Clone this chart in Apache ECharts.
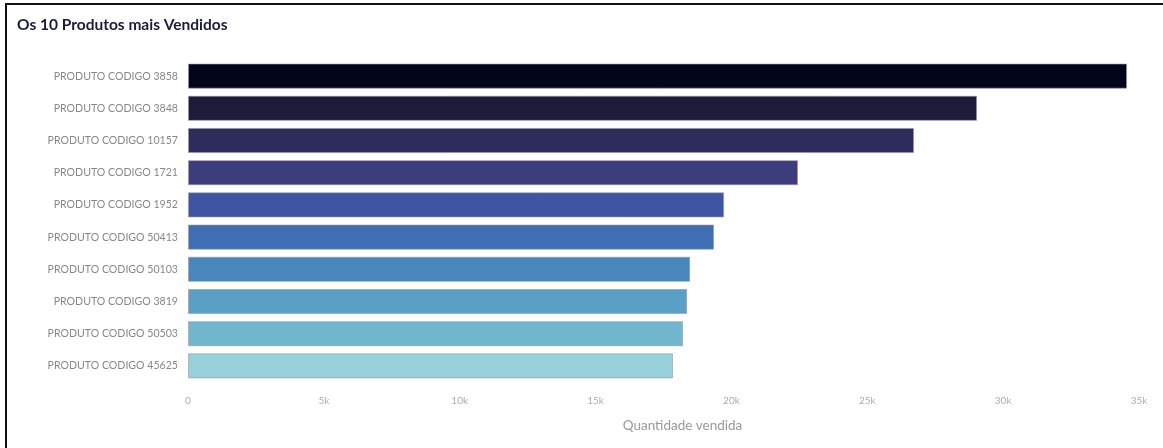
<!DOCTYPE html>
<html>
<head>
<meta charset="utf-8">
<script src="https://cdn.jsdelivr.net/npm/echarts@6/dist/echarts.min.js"></script>
<style>
	html, body {
		margin: 0;
		padding: 0;
		background: #fff;
	}
	#frame {
		position: absolute;
		left: 5px;
		top: 3px;
		width: 1158px;
		height: 445px;
		border-left: 2px solid #111;
		border-top: 2px solid #111;
	}
	#chartContainer {
		position: absolute;
		left: 0;
		top: 0;
		width: 1163px;
		height: 448px;
	}
</style>
</head>
<body>
<div id="frame"></div>
<div id="chartContainer"></div>
<script>
	// top 10 produtos (ordem do maior para o menor)
	var produtos = ['PRODUTO CODIGO 3858', 'PRODUTO CODIGO 3848', 'PRODUTO CODIGO 10157', 'PRODUTO CODIGO 1721',
		'PRODUTO CODIGO 1952', 'PRODUTO CODIGO 50413', 'PRODUTO CODIGO 50103', 'PRODUTO CODIGO 3819',
		'PRODUTO CODIGO 50503', 'PRODUTO CODIGO 45625'];
	var quantidades = [34560, 29040, 26720, 22450, 19730, 19360, 18480, 18370, 18220, 17850];
	var cores = ['#03061a', '#1c1b38', '#2d2b5a', '#3d3c7c', '#3f55a2', '#3f6fb2', '#4886bc', '#5aa0c6', '#70b7cd', '#97d0da'];

	var myChart = echarts.init(document.getElementById('chartContainer'));

	var option = {
		animation: false,
		title: {
			text: 'Os 10 Produtos mais Vendidos',
			left: 12,
			top: 12,
			textStyle: {
				color: '#1a1c3a',
				fontSize: 15.5,
				fontWeight: 'bold',
				fontFamily: 'Lato'
			}
		},
		grid: {
			left: 188,
			right: 24,
			top: 60,
			bottom: 66
		},
		xAxis: {
			type: 'value',
			min: 0,
			max: 35000,
			interval: 5000,
			name: 'Quantidade vendida',
			nameLocation: 'middle',
			nameGap: 37,
			nameTextStyle: {
				color: '#999',
				fontSize: 13.5,
				fontFamily: 'Lato',
				padding: [0, 0, 0, 38]
			},
			axisLine: { show: false },
			axisTick: { show: false },
			splitLine: { show: false },
			axisLabel: {
				color: '#aab',
				fontSize: 10,
				fontFamily: 'Lato',
				margin: 14,
				formatter: function (v) {
					return v === 0 ? '0' : (v / 1000) + 'k';
				}
			}
		},
		yAxis: {
			type: 'category',
			inverse: true,
			data: produtos,
			axisLine: { show: false },
			axisTick: { show: false },
			axisLabel: {
				color: '#888',
				fontSize: 10.6,
				fontFamily: 'Lato',
				margin: 10
			}
		},
		series: [{
			type: 'bar',
			data: quantidades.map(function (v, i) {
				return {
					value: v,
					itemStyle: { color: cores[i] }
				};
			}),
			barCategoryGap: '22%',
			itemStyle: {
				borderColor: 'rgba(150,150,170,0.6)',
				borderWidth: 1
			}
		}]
	};

	myChart.setOption(option);
</script>
</body>
</html>
